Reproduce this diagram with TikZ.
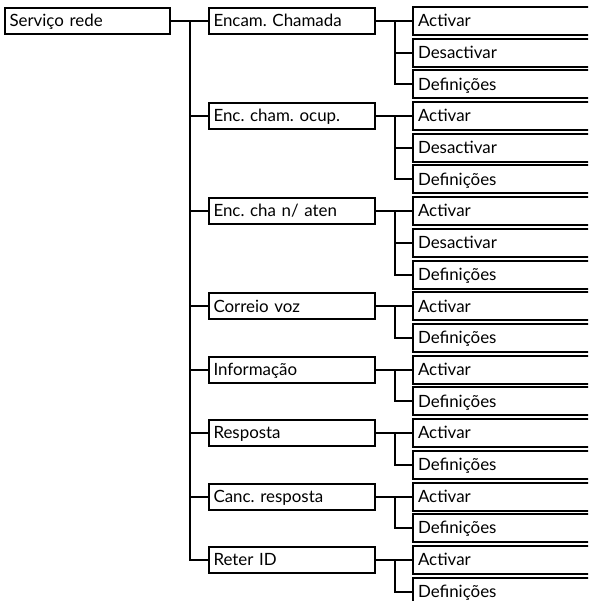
\documentclass[tikz,border=0pt]{standalone}
\usepackage{fontspec}
\setmainfont{Lato}
\frenchspacing
\begin{document}
\begin{tikzpicture}[x=1pt,y=-1pt,
  every node/.style={font=\fontsize{16.9}{18}\selectfont},
  box/.style={line width=2pt, anchor=north west, minimum height=26pt, inner xsep=4.5pt, inner ysep=0pt, text height=13.5pt, text depth=2pt, align=left},
  rootbox/.style={box, draw, minimum width=165pt, text width=156pt},
  midbox/.style={box, draw, minimum width=166pt, text width=157pt},
  subbox/.style={box, minimum width=190pt, text width=181pt},
  conn/.style={line width=2pt}]
\useasboundingbox (0,0) rectangle (588,601);
\clip (0,0) rectangle (588,601);
\def\T#1{\fpeval{7+31.7*#1}}
\node[rootbox] (root) at (4,7) {Serviço rede};
% middle boxes
\node[midbox] (m1) at (208,{\T{0}}) {Encam. Chamada};
\node[midbox] (m2) at (208,{\T{3}}) {Enc. cham. ocup.};
\node[midbox] (m3) at (208,{\T{6}}) {Enc. cha n/ aten};
\node[midbox] (m4) at (208,{\T{9}}) {Correio voz};
\node[midbox] (m5) at (208,{\T{11}}) {Informação};
\node[midbox] (m6) at (208,{\T{13}}) {Resposta};
\node[midbox] (m7) at (208,{\T{15}}) {Canc. resposta};
\node[midbox] (m8) at (208,{\T{17}}) {Reter ID};
% sub boxes (open on the right, running past the edge)
\node[subbox] (s0) at (412.5,{\T{0}}) {Activar};
\node[subbox] (s1) at (412.5,{\T{1}}) {Desactivar};
\node[subbox] (s2) at (412.5,{\T{2}}) {Definições};
\node[subbox] (s3) at (412.5,{\T{3}}) {Activar};
\node[subbox] (s4) at (412.5,{\T{4}}) {Desactivar};
\node[subbox] (s5) at (412.5,{\T{5}}) {Definições};
\node[subbox] (s6) at (412.5,{\T{6}}) {Activar};
\node[subbox] (s7) at (412.5,{\T{7}}) {Desactivar};
\node[subbox] (s8) at (412.5,{\T{8}}) {Definições};
\node[subbox] (s9) at (412.5,{\T{9}}) {Activar};
\node[subbox] (s10) at (412.5,{\T{10}}) {Definições};
\node[subbox] (s11) at (412.5,{\T{11}}) {Activar};
\node[subbox] (s12) at (412.5,{\T{12}}) {Definições};
\node[subbox] (s13) at (412.5,{\T{13}}) {Activar};
\node[subbox] (s14) at (412.5,{\T{14}}) {Definições};
\node[subbox] (s15) at (412.5,{\T{15}}) {Activar};
\node[subbox] (s16) at (412.5,{\T{16}}) {Definições};
\node[subbox] (s17) at (412.5,{\T{17}}) {Activar};
\node[subbox] (s18) at (412.5,{\T{18}}) {Definições};
\foreach \s in {0,...,18}
  \draw[conn] (s\s.north east) -- (s\s.north west) -- (s\s.south west) -- (s\s.south east);
% trunk
\coordinate (tr) at (190,0);
\draw[conn] (root.east) -- (root.east -| tr) -- (m8.west -| tr) -- (m8.west);
\foreach \m in {1,...,7} \draw[conn] (m\m.west -| tr) -- (m\m.west);
% sub connectors
\coordinate (st) at (395,0);
\foreach \m/\a/\b in {1/0/2,2/3/5,3/6/8,4/9/10,5/11/12,6/13/14,7/15/16,8/17/18} {
  \draw[conn] (m\m.east) -- (m\m.east -| st) -- (s\b.west -| st) -- (s\b.west);
  \draw[conn] (s\a.west -| st) -- (s\a.west);
}
\draw[conn] (s1.west -| st) -- (s1.west);
\draw[conn] (s4.west -| st) -- (s4.west);
\draw[conn] (s7.west -| st) -- (s7.west);
\end{tikzpicture}
\end{document}
